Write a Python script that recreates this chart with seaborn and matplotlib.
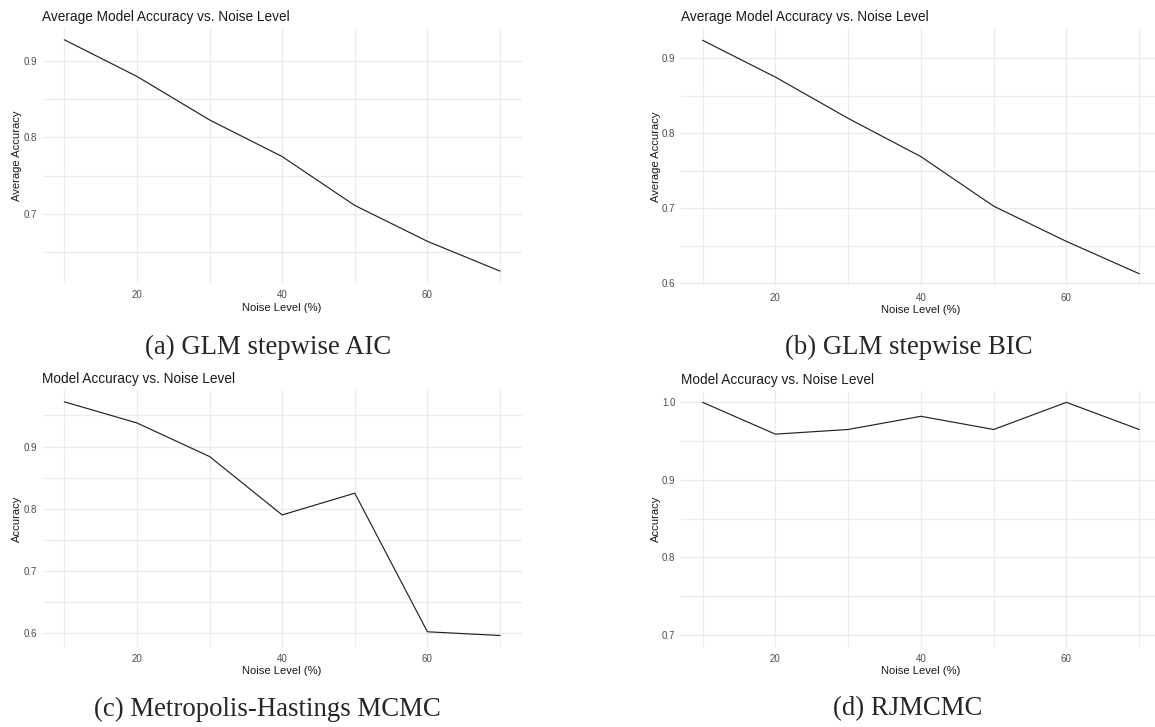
import matplotlib
matplotlib.use("Agg")
import matplotlib.pyplot as plt
import seaborn as sns
from matplotlib.ticker import MultipleLocator

# Noise levels (%) and accuracy
noise_levels = [10, 20, 30, 40, 50, 60, 70]
acc_aic = [0.928, 0.880, 0.823, 0.775, 0.711, 0.664, 0.625]
acc_bic = [0.924, 0.875, 0.820, 0.769, 0.703, 0.656, 0.613]
acc_mh = [0.972, 0.938, 0.884, 0.790, 0.825, 0.602, 0.596]
acc_rj = [1.000, 0.959, 0.965, 0.982, 0.965, 1.000, 0.965]

titles = ["Average Model Accuracy vs. Noise Level", "Average Model Accuracy vs. Noise Level",
          "Model Accuracy vs. Noise Level", "Model Accuracy vs. Noise Level"]
ylabels = ["Average Accuracy", "Average Accuracy", "Accuracy", "Accuracy"]
captions = ["(a) GLM stepwise AIC", "(b) GLM stepwise BIC",
            "(c) Metropolis-Hastings MCMC", "(d) RJMCMC"]

sns.set_theme(style="white")
plt.rcParams["font.family"] = ["Liberation Sans", "DejaVu Sans"]

W, H = 1155, 727
fig = plt.figure(figsize=(W / 100, H / 100), dpi=100)

# panel boxes in pixels: left, top, right, bottom (right column runs off the page)
boxes = [(42.5, 28.3, 521.8, 283.3), (680.8, 28.3, 1161.0, 285.7),
         (42.5, 390.0, 521.8, 646.7), (680.8, 390.7, 1161.0, 646.7)]
ylims = [(0.609, 0.943), (0.597, 0.940), (0.578, 0.991), (0.685, 1.015)]
caption_pos = [(268, 347), (909, 347), (267, 709), (908, 709)]

grid_col = "#EBEBEB"
for i, series in enumerate([acc_aic, acc_bic, acc_mh, acc_rj]):
    l, t, r, b = boxes[i]
    ax = fig.add_axes([l / W, 1 - b / H, (r - l) / W, (b - t) / H])
    sns.lineplot(x=noise_levels, y=series, ax=ax, color="#222222", linewidth=0.85)
    ax.set_xlim(7, 73)
    ax.set_ylim(*ylims[i])
    ax.xaxis.set_major_locator(MultipleLocator(20))
    ax.xaxis.set_minor_locator(MultipleLocator(10))
    ax.yaxis.set_major_locator(MultipleLocator(0.1))
    ax.yaxis.set_minor_locator(MultipleLocator(0.05))
    ax.grid(which="major", color=grid_col, linewidth=1.0)
    ax.grid(which="minor", color=grid_col, linewidth=0.8)
    ax.set_axisbelow(True)
    for s in ax.spines.values():
        s.set_visible(False)
    ax.tick_params(which="both", length=0, labelsize=7, labelcolor="#4D4D4D")
    ax.tick_params(axis="x", pad=5)
    ax.tick_params(axis="y", pad=4)
    ax.set_title(titles[i], loc="left", fontsize=9.8, pad=5, color="#1A1A1A")
    ax.set_xlabel("Noise Level (%)", fontsize=8.1, labelpad=2, color="#1A1A1A")
    ax.set_ylabel(ylabels[i], fontsize=8.1, labelpad=0.8, color="#1A1A1A")

for cap, (cx, cy) in zip(captions, caption_pos):
    fig.text(cx / W, 1 - cy / H, cap, ha="center", va="center", fontsize=19.3,
             family=["Liberation Serif", "DejaVu Serif"])

fig.savefig("out.png", dpi=100, facecolor="white")
